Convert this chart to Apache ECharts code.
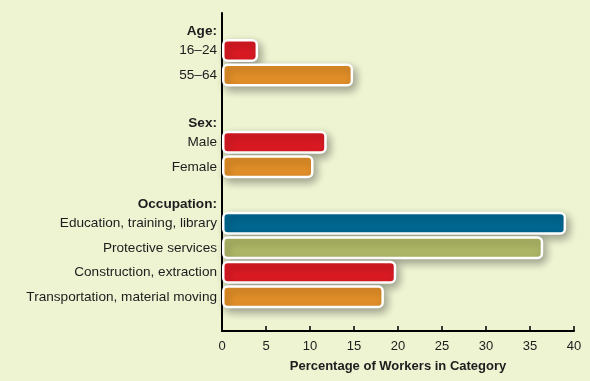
<!DOCTYPE html>
<html>
<head>
<meta charset="utf-8">
<script src="https://cdn.jsdelivr.net/npm/echarts@6/dist/echarts.min.js"></script>
<style>
html,body{margin:0;padding:0;background:#eef3d2;}
#c{width:590px;height:381px;}
</style>
</head>
<body>
<div id="c"></div>
<script>
// ---- data ----
const groupTitles = ['Age:', 'Sex:', 'Occupation:'];
const ageCategories = ['16–24', '55–64'];
const ageValues = [4.1, 14.9];
const sexCategories = ['Male', 'Female'];
const sexValues = [11.9, 10.4];
const occCategories = ['Education, training, library', 'Protective services', 'Construction, extraction', 'Transportation, material moving'];
const occValues = [39.1, 36.5, 19.8, 18.4];
const xMin = 0, xMax = 40, xStep = 5;
const axisTitle = 'Percentage of Workers in Category';

// ---- style ----
const RED = '#da1a23', ORANGE = '#e28f28', BLUE = '#006791', OLIVE = '#adb766';
const ageColors = [RED, ORANGE];
const sexColors = [RED, ORANGE];
const occColors = [BLUE, OLIVE, RED, ORANGE];
const TEXT = '#1e1c1d';
const FONT = 'Liberation Sans, Arial, sans-serif';

const groups = [
  { title: groupTitles[0], cats: ageCategories, vals: ageValues, colors: ageColors, top: 13.75, band: 24.5 },
  { title: groupTitles[1], cats: sexCategories, vals: sexValues, colors: sexColors, top: 105.5, band: 24.5 },
  { title: groupTitles[2], cats: occCategories, vals: occValues, colors: occColors, top: 186.5, band: 24.5 }
];

const LEFT = 222, RIGHT = 16;

const grid = [{ left: LEFT, right: RIGHT, top: 13, bottom: 50 }];
const xAxis = [{
  gridIndex: 0, type: 'value', min: xMin, max: xMax, interval: xStep,
  axisLine: { show: true, lineStyle: { color: '#000', width: 2 } },
  axisTick: { show: true, inside: true, length: 5, lineStyle: { color: '#000', width: 1.5 } },
  axisLabel: { color: TEXT, fontFamily: FONT, fontSize: 13, margin: 9 },
  splitLine: { show: false },
  name: axisTitle, nameLocation: 'middle', nameGap: 29,
  nameTextStyle: { color: TEXT, fontFamily: FONT, fontSize: 13, fontWeight: 'bold' }
}];
const yAxis = [{
  gridIndex: 0, type: 'value', min: 0, max: 1,
  axisLine: { show: true, lineStyle: { color: '#000', width: 2 } },
  axisTick: { show: false }, axisLabel: { show: false }, splitLine: { show: false }
}];
const series = [];

groups.forEach((g, i) => {
  const gi = i + 1;
  const cats = [g.title].concat(g.cats);
  grid.push({ left: LEFT, right: RIGHT, top: g.top, height: g.band * cats.length });
  xAxis.push({ gridIndex: gi, type: 'value', min: xMin, max: xMax, show: false });
  yAxis.push({
    gridIndex: gi, type: 'category', inverse: true, data: cats,
    axisLine: { show: false }, axisTick: { show: false },
    axisLabel: {
      color: TEXT, fontFamily: FONT, fontSize: 13.6, margin: 5, interval: 0,
      formatter: (v, idx) => idx === 0 ? '{h|' + v + '}' : v,
      rich: { h: { fontWeight: 'bold', fontFamily: FONT, fontSize: 13.6, color: TEXT, padding: [11, 0, 0, 0] } }
    }
  });
  series.push({
    type: 'bar', xAxisIndex: gi, yAxisIndex: gi, barWidth: 23,
    data: ['-'].concat(g.vals.map((v, k) => ({
      value: v,
      itemStyle: { color: g.colors[k] }
    }))),
    itemStyle: {
      borderColor: '#fff', borderWidth: 2.5, borderRadius: 4.5,
      shadowBlur: 8, shadowOffsetX: 3, shadowOffsetY: 4, shadowColor: 'rgba(0,0,0,0.33)'
    },
    silent: true, animation: false
  });
});

const chart = echarts.init(document.getElementById('c'));
chart.setOption({
  backgroundColor: '#eef3d2',
  animation: false,
  grid, xAxis, yAxis, series
});
</script>
</body>
</html>
